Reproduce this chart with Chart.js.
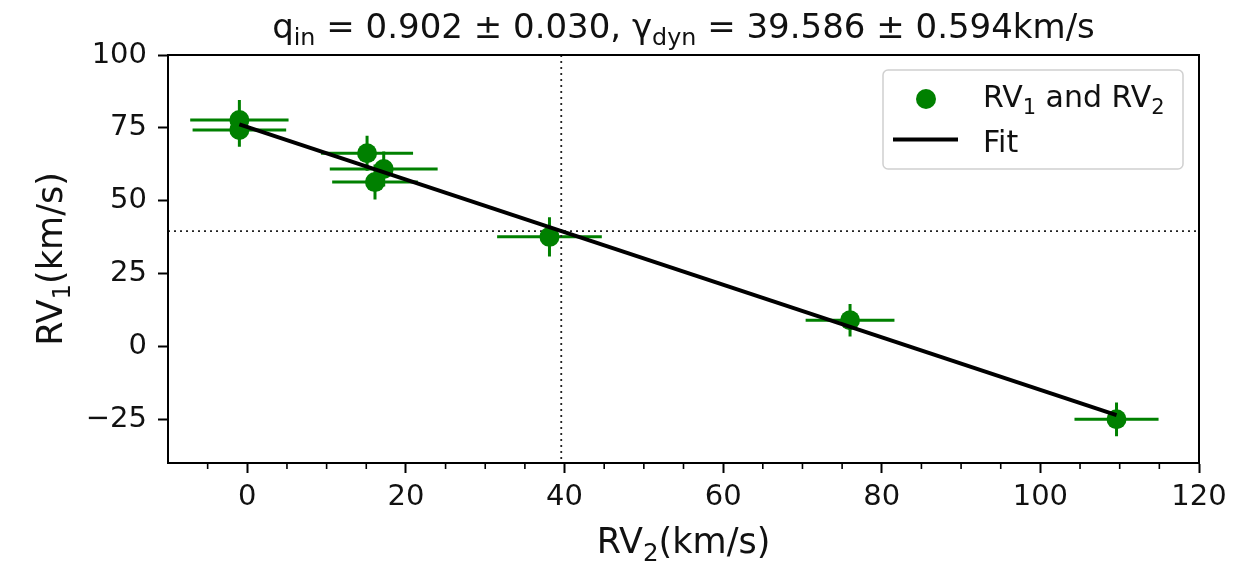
<!DOCTYPE html>
<html>
<head>
<meta charset="utf-8">
<script src="https://cdn.jsdelivr.net/npm/chart.js@4.4.1/dist/chart.umd.min.js"></script>
<style>
  html, body { margin: 0; padding: 0; background: #fff; }
  #wrap { width: 1235px; height: 564px; }
</style>
</head>
<body>
<div id="wrap"><canvas id="rvChart"></canvas></div>
<script>
// RV1 vs RV2 measurements with their errors (km/s)
const rv2 = [-1.0, -1.0, 15.1, 17.2, 16.1, 38.1, 76.0, 109.6];
const rv1 = [77.7, 74.3, 66.3, 60.9, 56.4, 37.6, 9.0, -25.0];
const rv2Err = [6.2, 5.9, 5.8, 6.8, 5.4, 6.6, 5.6, 5.3];
const rv1Err = [6.9, 5.8, 6.0, 6.0, 6.0, 6.7, 5.6, 5.8];

// straight-line fit, end points
const fitX = [-1.0, 109.6];
const fitY = [76.2, -23.6];

// systemic velocity, marked with dotted cross lines
const gammaDyn = 39.586;

const xTicks = [0, 20, 40, 60, 80, 100, 120];
const xMinorTicks = [-5, 5, 10, 15, 25, 30, 35, 45, 50, 55, 65, 70, 75, 85, 90, 95, 105, 110, 115];
const yTicks = [-25, 0, 25, 50, 75, 100];

const FONT = "'DejaVu Sans', sans-serif";
const GREEN = '#008000';
const INK = '#111';

function fmt(v) {
    return v < 0 ? '\u2212' + Math.abs(v) : String(v);
}

// draws text pieces, some as subscripts, starting at x
function drawRich(ctx, parts, x, y, size) {
    let cx = x;
    parts.forEach(p => {
        const s = p.sub ? size * 0.7 : size;
        ctx.font = s + 'px ' + FONT;
        ctx.fillText(p.t, cx, p.sub ? y + size * 0.22 : y);
        cx += ctx.measureText(p.t).width;
    });
    return cx - x;
}
function richWidth(ctx, parts, size) {
    let w = 0;
    parts.forEach(p => {
        ctx.font = (p.sub ? size * 0.7 : size) + 'px ' + FONT;
        w += ctx.measureText(p.t).width;
    });
    return w;
}

const titleParts = [
    { t: 'q' }, { t: 'in', sub: true },
    { t: ' = 0.902 \u00b1 0.030, ' },
    { t: '\u03b3' }, { t: 'dyn', sub: true },
    { t: ' = 39.586 \u00b1 0.594km/s' }
];
const xLabelParts = [{ t: 'RV' }, { t: '2', sub: true }, { t: '(km/s)' }];
const yLabelParts = [{ t: 'RV' }, { t: '1', sub: true }, { t: '(km/s)' }];

const extras = {
    id: 'extras',
    beforeDatasetsDraw(chart) {
        const { ctx, chartArea: a, scales: { x, y } } = chart;
        ctx.save();
        ctx.beginPath();
        ctx.rect(a.left, a.top, a.right - a.left, a.bottom - a.top);
        ctx.clip();
        // error bars
        ctx.strokeStyle = GREEN;
        ctx.lineWidth = 3;
        for (let i = 0; i < rv2.length; i++) {
            const px = x.getPixelForValue(rv2[i]);
            const py = y.getPixelForValue(rv1[i]);
            ctx.beginPath();
            ctx.moveTo(x.getPixelForValue(rv2[i] - rv2Err[i]), py);
            ctx.lineTo(x.getPixelForValue(rv2[i] + rv2Err[i]), py);
            ctx.moveTo(px, y.getPixelForValue(rv1[i] - rv1Err[i]));
            ctx.lineTo(px, y.getPixelForValue(rv1[i] + rv1Err[i]));
            ctx.stroke();
        }
        // dotted lines at gamma
        ctx.strokeStyle = '#222';
        ctx.lineWidth = 1.8;
        ctx.setLineDash([2, 4]);
        const gx = x.getPixelForValue(gammaDyn);
        const gy = y.getPixelForValue(gammaDyn);
        ctx.beginPath();
        ctx.moveTo(gx, a.top); ctx.lineTo(gx, a.bottom);
        ctx.moveTo(a.left, gy); ctx.lineTo(a.right, gy);
        ctx.stroke();
        ctx.restore();
    },
    afterDraw(chart) {
        const { ctx, chartArea: a, scales: { x } } = chart;
        ctx.save();
        // frame
        ctx.strokeStyle = '#000';
        ctx.lineWidth = 2;
        ctx.strokeRect(a.left, a.top, a.right - a.left, a.bottom - a.top);
        // minor ticks on x
        ctx.lineWidth = 1.6;
        ctx.beginPath();
        xMinorTicks.forEach(v => {
            const px = x.getPixelForValue(v);
            ctx.moveTo(px, a.bottom);
            ctx.lineTo(px, a.bottom + 6);
        });
        ctx.stroke();

        ctx.fillStyle = INK;
        ctx.textBaseline = 'alphabetic';
        const cx = (a.left + a.right) / 2;

        // title
        const ts = 34;
        drawRich(ctx, titleParts, cx - richWidth(ctx, titleParts, ts) / 2, 38, ts);

        // axis titles
        const as = 35;
        drawRich(ctx, xLabelParts, cx - richWidth(ctx, xLabelParts, as) / 2, 553, as);
        ctx.save();
        ctx.translate(62, (a.top + a.bottom) / 2);
        ctx.rotate(-Math.PI / 2);
        drawRich(ctx, yLabelParts, -richWidth(ctx, yLabelParts, as) / 2, 0, as);
        ctx.restore();

        // legend
        const lx = 883, ly = 70, lw = 300, lh = 99;
        ctx.beginPath();
        ctx.roundRect(lx, ly, lw, lh, 5);
        ctx.fillStyle = 'rgba(255,255,255,0.85)';
        ctx.fill();
        ctx.strokeStyle = '#d0d0d0';
        ctx.lineWidth = 1.5;
        ctx.stroke();

        ctx.fillStyle = GREEN;
        ctx.beginPath();
        ctx.arc(926, 99, 10, 0, Math.PI * 2);
        ctx.fill();
        ctx.strokeStyle = '#000';
        ctx.lineWidth = 4;
        ctx.beginPath();
        ctx.moveTo(893, 139.5); ctx.lineTo(958, 139.5);
        ctx.stroke();

        ctx.fillStyle = INK;
        const ls = 30;
        drawRich(ctx, [{ t: 'RV' }, { t: '1', sub: true }, { t: ' and RV' }, { t: '2', sub: true }], 983, 107, ls);
        drawRich(ctx, [{ t: 'Fit' }], 983, 152, ls);
        ctx.restore();
    }
};

new Chart(document.getElementById('rvChart'), {
    type: 'scatter',
    data: {
        datasets: [
            {
                label: 'RV\u2081 and RV\u2082',
                data: rv2.map((v, i) => ({ x: v, y: rv1[i] })),
                backgroundColor: GREEN,
                borderColor: GREEN,
                pointRadius: 10,
                pointHoverRadius: 10,
                borderWidth: 0,
                order: 2
            },
            {
                type: 'line',
                label: 'Fit',
                data: fitX.map((v, i) => ({ x: v, y: fitY[i] })),
                borderColor: '#000',
                borderWidth: 4,
                pointRadius: 0,
                fill: false,
                order: 1
            }
        ]
    },
    options: {
        responsive: true,
        maintainAspectRatio: false,
        animation: false,
        events: [],
        layout: { padding: { top: 55, right: 36, bottom: 0, left: 0 } },
        plugins: {
            legend: { display: false },
            tooltip: { enabled: false },
            title: { display: false }
        },
        scales: {
            x: {
                type: 'linear',
                min: -10,
                max: 120,
                afterBuildTicks: s => { s.ticks = xTicks.map(v => ({ value: v })); },
                afterFit: s => { s.height = 101; },
                grid: { drawOnChartArea: false, drawTicks: true, tickLength: 10, tickWidth: 2, tickColor: '#000' },
                border: { display: true, color: '#000', width: 2 },
                ticks: {
                    color: INK,
                    font: { family: FONT, size: 29 },
                    padding: 7,
                    maxRotation: 0,
                    callback: v => fmt(v)
                }
            },
            y: {
                type: 'linear',
                min: -40,
                max: 100,
                afterBuildTicks: s => { s.ticks = yTicks.map(v => ({ value: v })); },
                afterFit: s => { s.width = 168; },
                grid: { drawOnChartArea: false, drawTicks: true, tickLength: 10, tickWidth: 2, tickColor: '#000' },
                border: { display: true, color: '#000', width: 2 },
                ticks: {
                    color: INK,
                    font: { family: FONT, size: 29 },
                    padding: 11,
                    callback: v => fmt(v)
                }
            }
        }
    },
    plugins: [extras]
});
</script>
</body>
</html>
